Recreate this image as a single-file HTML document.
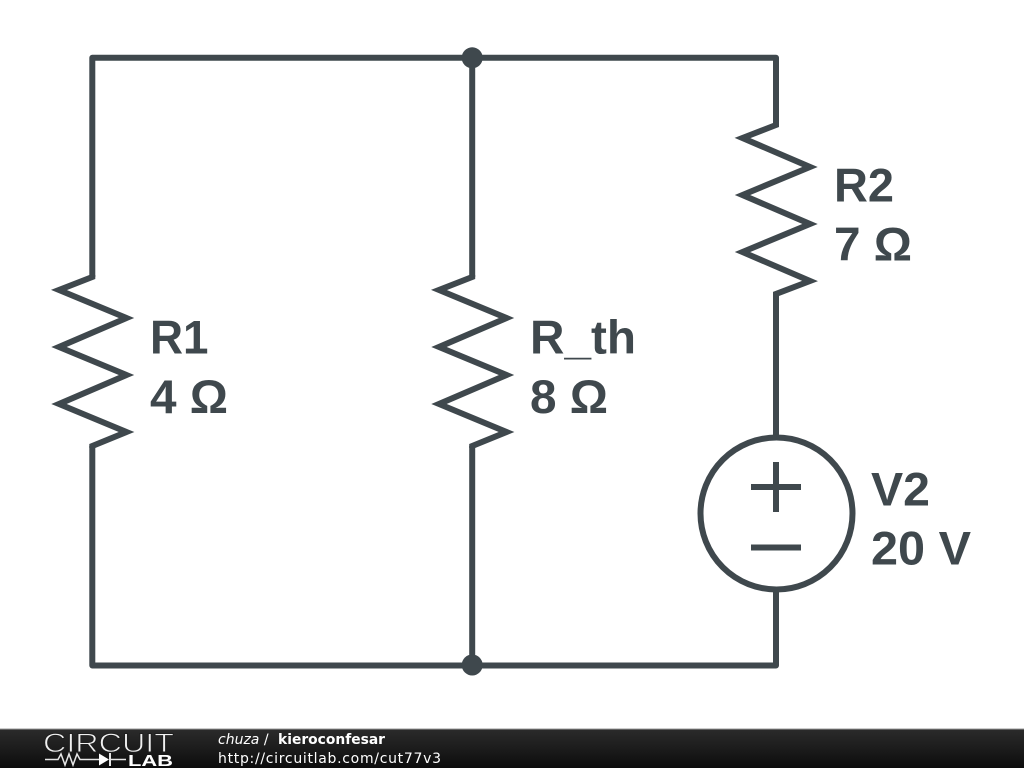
<!DOCTYPE html>
<html><head><meta charset="utf-8"><style>
html,body{margin:0;padding:0;background:#fff;width:1024px;height:768px;overflow:hidden}
svg{display:block}
</style></head><body>
<svg width="1024" height="768" viewBox="0 0 1024 768" xmlns="http://www.w3.org/2000/svg">
<defs><linearGradient id="g" x1="0" y1="0" x2="0" y2="1"><stop offset="0" stop-color="#2b2b2b"/><stop offset="0.5" stop-color="#1c1c1c"/><stop offset="1" stop-color="#0c0c0c"/></linearGradient></defs>
<rect width="1024" height="768" fill="#fff"/>
<g fill="none" stroke="#3f484d" stroke-width="6" stroke-linejoin="round" stroke-linecap="butt">
<path d="M92.300 277V57.800H776V125"/>
<path d="M92.300 446V665.500H776V591"/>
<path d="M472.200 57.800V277"/>
<path d="M472.200 446V665.500"/>
<path d="M776 293V437"/>
</g>
<g fill="none" stroke="#3f484d" stroke-width="6" stroke-linejoin="miter" stroke-miterlimit="10" stroke-linecap="butt">
<path d="M92.300 275V277L59 290 126.500 318 59 347 126.500 375 59 404 126.500 432 92.300 446V448"/>
<path d="M472.200 275V277L439 290 506.500 318 439 347 506.500 375 439 404 506.500 432 472.200 446V448"/>
<path d="M776 123V125L742.500 138 810 167 742.500 195 810 224 742.500 252 810 281 776 294V296"/>
<circle cx="776.500" cy="513.500" r="76"/>
<path d="M751 487H801M776 462V512M751 547.500H801"/>
</g>
<circle cx="472.200" cy="57.800" r="10.500" fill="#3f484d"/>
<circle cx="472.200" cy="665" r="10.500" fill="#3f484d"/>
<g font-family="'Liberation Sans',sans-serif" font-weight="700" font-size="47" fill="#3f484d">
<text x="150" y="353.500" textLength="58.500" lengthAdjust="spacingAndGlyphs">R1</text>
<text x="150" y="413" textLength="78" lengthAdjust="spacingAndGlyphs">4 Ω</text>
<text x="530" y="353.500" textLength="106" lengthAdjust="spacingAndGlyphs">R_th</text>
<text x="530" y="413" textLength="78" lengthAdjust="spacingAndGlyphs">8 Ω</text>
<text x="834" y="201.500" textLength="60" lengthAdjust="spacingAndGlyphs">R2</text>
<text x="834" y="260.500" textLength="78" lengthAdjust="spacingAndGlyphs">7 Ω</text>
<text x="871" y="505.500" textLength="59" lengthAdjust="spacingAndGlyphs">V2</text>
<text x="871" y="564.500" textLength="100" lengthAdjust="spacingAndGlyphs">20 V</text>
</g>
<rect y="729" width="1024" height="39" fill="url(#g)"/>
<rect y="728.500" width="1024" height="1" fill="#9a9a9a"/>
<text x="43" y="752" font-family="'Liberation Sans',sans-serif" font-size="27" fill="#f0f0f0" stroke="#1f1f1f" stroke-width="0.9" textLength="131" lengthAdjust="spacingAndGlyphs" style="paint-order:fill stroke">CIRCUIT</text>
<g fill="none" stroke="#e6e6e6" stroke-width="1.500">
<path d="M45 759.500H58L61 754 65 765 69 754 73 765 77 754 80 759.500H99M110 759.500H126"/>
<path d="M110 753V766" stroke-width="2"/>
</g>
<path d="M99 753.500L109 759.500 99 765.500Z" fill="#fff"/>
<text x="128" y="766" font-family="'Liberation Sans',sans-serif" font-weight="700" font-size="15.500" fill="#fff" textLength="45" lengthAdjust="spacingAndGlyphs">LAB</text>
<g font-family="'DejaVu Sans',sans-serif" font-size="14" fill="#fff">
<text x="218" y="744"><tspan font-style="italic">chuza</tspan> /</text>
<text x="278" y="744" font-weight="700" textLength="107" lengthAdjust="spacingAndGlyphs">kieroconfesar</text>
<text x="218" y="763" textLength="223">http://circuitlab.com/cut77v3</text>
</g>
</svg>
</body></html>
